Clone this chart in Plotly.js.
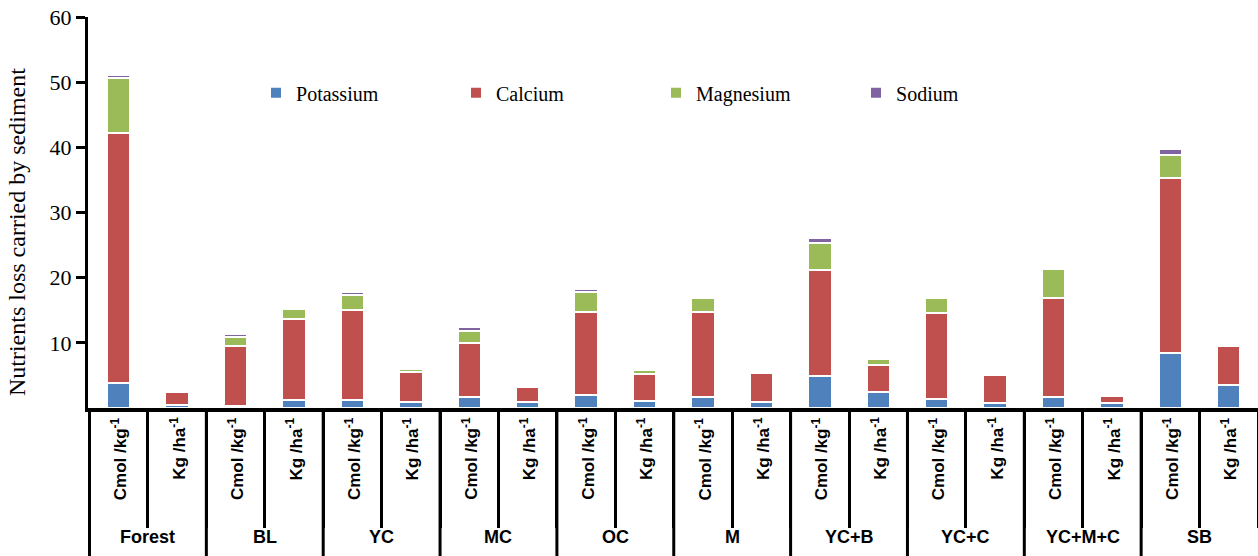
<!DOCTYPE html>
<html>
<head>
<meta charset="utf-8">
<script src="https://cdn.plot.ly/plotly-3.0.1.min.js"></script>
<style>html,body{margin:0;padding:0;background:#fff;}#chart{width:1258px;height:556px;}</style>
</head>
<body>
<div id="chart"></div>
<script>
// Data
const groups = ['Forest','BL','YC','MC','OC','M','YC+B','YC+C','YC+M+C','SB'];
const units = ['Cmol /kg<sup>-1</sup>', 'Kg /ha<sup>-1</sup>'];
// order: for each group -> [Cmol/kg, Kg/ha]
const potassium = [3.8,0.4, 0.3,1.2, 1.2,0.9, 1.7,0.9, 2.0,1.0, 1.7,0.9, 4.9,2.5, 1.4,0.8, 1.7,0.8, 8.4,3.5];
const calcium   = [38.4,2.0, 9.2,12.5, 13.8,4.6, 8.3,2.3, 12.7,4.2, 13.0,4.4, 16.3,4.1, 13.2,4.3, 15.2,1.0, 26.9,6.0];
const magnesium = [8.4,0, 1.4,1.5, 2.3,0.5, 1.8,0, 3.1,0.6, 2.2,0, 4.1,0.9, 2.3,0, 4.4,0, 3.5,0];
const sodium    = [0.5,0, 0.5,0.3, 0.5,0, 0.6,0, 0.5,0, 0,0, 0.8,0, 0,0, 0.3,0, 0.9,0];
const seriesNames = ['Potassium','Calcium','Magnesium','Sodium'];
const yTicks = [10,20,30,40,50,60];

const cats = [];
groups.forEach(g => units.forEach((u,i) => cats.push(g + '_' + i)));

const colors = ['#4F81BD','#C0504D','#9BBB59','#8064A2'];
const vals = [potassium, calcium, magnesium, sodium];
const traces = vals.map((v,i) => ({
  type:'bar', x:cats, y:v, name:seriesNames[i],
  marker:{color:colors[i], line:{color:'#ffffff', width:2}},
  hoverinfo:'skip'
}));

const serif = 'Liberation Serif, Times New Roman, serif';
const sansB = 'Liberation Sans Narrow, Liberation Sans, Arial, sans-serif';
const bottomPaper = -148/391;

const annotations = [];
const shapes = [];
cats.forEach((c,idx) => {
  annotations.push({
    x:c, xref:'x', y:-0.018, yref:'paper', text:'<b>'+units[idx%2]+'</b>',
    textangle:-90, showarrow:false, xanchor:'center', yanchor:'top',
    font:{family:sansB, size:17, color:'#000'}
  });
});
groups.forEach((g,gi) => {
  annotations.push({
    x:gi*2+0.5, xref:'x', y:-0.33, yref:'paper', text:'<b>'+g+'</b>',
    showarrow:false, xanchor:'center', yanchor:'middle',
    font:{family:sansB, size:18, color:'#000'}
  });
  shapes.push({type:'line', xref:'x', yref:'paper', x0:gi*2-0.5, x1:gi*2-0.5, y0:0, y1:bottomPaper,
    line:{color:'#000', width:3}});
});
annotations.push({
  x:-86/1170, xref:'paper', y:0.45, yref:'paper', text:'Nutrients loss carried by sediment',
  textangle:-90, showarrow:false, xanchor:'left', yanchor:'middle',
  font:{family:serif, size:24, color:'#000'}
});

const layout = {
  width:1258, height:556,
  margin:{l:88, r:0, t:17, b:148},
  paper_bgcolor:'#fff', plot_bgcolor:'#fff',
  barmode:'stack', bargap:0.6,
  showlegend:true,
  legend:{orientation:'h', x:0.1436, y:0.806, xanchor:'left', yanchor:'middle',
    entrywidth:155, entrywidthmode:'pixels', traceorder:'normal',
    font:{family:serif, size:20, color:'#000'}, bgcolor:'rgba(0,0,0,0)'},
  xaxis:{type:'category', categoryorder:'array', categoryarray:cats,
    showticklabels:false, tickson:'boundaries', ticks:'outside', ticklen:116, tickwidth:3, tickcolor:'#000',
    showline:true, linecolor:'#000', linewidth:4, showgrid:false, zeroline:false, fixedrange:true},
  yaxis:{range:[0,60], tickvals:yTicks, ticks:'outside', ticklen:9, tickwidth:3, tickcolor:'#000',
    showline:true, linecolor:'#000', linewidth:3, showgrid:false, zeroline:false,
    tickfont:{family:serif, size:22, color:'#000'}, fixedrange:true},
  annotations:annotations,
  shapes:shapes
};
Plotly.newPlot('chart', traces, layout, {displayModeBar:false, staticPlot:true});
</script>
</body>
</html>
